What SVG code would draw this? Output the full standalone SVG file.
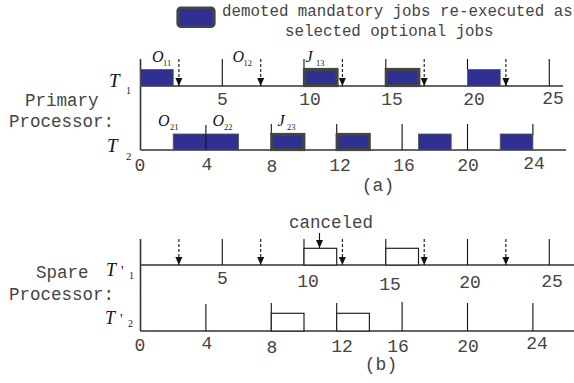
<svg xmlns="http://www.w3.org/2000/svg" width="574" height="383" viewBox="0 0 574 383">
<defs>
<marker id="ah" viewBox="0 0 8 8" refX="8" refY="4" markerWidth="8" markerHeight="8" markerUnits="userSpaceOnUse" orient="auto">
<path d="M0,0.5 L8,4 L0,7.5 Z" fill="#111"/>
</marker>
</defs>
<style>
.mono{font-family:"Liberation Mono","Courier New",monospace;fill:#444;}
.lbl{font-size:17.5px;}
.leg{font-size:15.8px;}
.tk{font-size:18px;text-anchor:middle;}
.ti{font-family:"Liberation Serif","Times New Roman",serif;font-style:italic;fill:#111;}
.sub{font-family:"Liberation Serif","Times New Roman",serif;fill:#222;}
.axis{stroke:#333;stroke-width:1.6;fill:none;}
.tick{stroke:#111;stroke-width:1.1;fill:none;}
.dash{stroke:#111;stroke-width:1.1;stroke-dasharray:3,2;fill:none;}
.blue{fill:#2e3192;stroke:#555;stroke-width:0.8;}
.bblue{fill:#2e3192;stroke:#444;stroke-width:3.2;}
.wbox{fill:#fff;stroke:#222;stroke-width:1.2;}
</style>
<rect width="574" height="383" fill="#fff"/>

<g id="legend">
<rect x="178" y="8" width="36" height="18.5" rx="3" class="bblue"/>
<text class="mono leg" x="222" y="15.5">demoted mandatory jobs re-executed as</text>
<text class="mono leg" x="285" y="35.5">selected optional jobs</text>
</g>

<g id="primary-label">
<text class="mono lbl" x="25" y="106">Primary</text>
<text class="mono lbl" x="9" y="127">Processor:</text>
</g>
<g id="spare-label">
<text class="mono lbl" x="36" y="278">Spare</text>
<text class="mono lbl" x="9" y="300">Processor:</text>
</g>

<g id="connectors">
<path class="axis" d="M140.5,59 V150"/>
<path class="axis" d="M140.5,86 H563"/>
<path class="axis" d="M140.5,150 H566"/>
<path class="tick" d="M222.3,59 V86 M304,59 V69 M385.8,59 V69 M467.5,59 V69 M549.3,59 V86"/>
<path class="dash" d="M178.9,59 V86" marker-end="url(#ah)"/>
<path class="dash" d="M260.7,59 V86" marker-end="url(#ah)"/>
<path class="dash" d="M342.4,59 V86" marker-end="url(#ah)"/>
<path class="dash" d="M424.2,59 V86" marker-end="url(#ah)"/>
<path class="dash" d="M505.9,59 V86" marker-end="url(#ah)"/>
<path class="tick" d="M205.9,125 V150 M271.3,124 V135 M336.7,124 V135 M402.1,124 V150 M467.5,124 V150 M532.9,124 V135"/>

<path class="axis" d="M140.5,239 V331"/>
<path class="axis" d="M140.5,265 H574"/>
<path class="axis" d="M140.5,331 H574"/>
<path class="tick" d="M222.3,239 V265 M304,239 V265 M385.8,239 V265 M467.5,239 V265 M549.3,239 V265"/>
<path class="dash" d="M178.9,239 V265" marker-end="url(#ah)"/>
<path class="dash" d="M260.7,239 V265" marker-end="url(#ah)"/>
<path class="dash" d="M342.4,239 V265" marker-end="url(#ah)"/>
<path class="dash" d="M424.2,239 V265" marker-end="url(#ah)"/>
<path class="dash" d="M505.9,239 V265" marker-end="url(#ah)"/>
<path class="tick" d="M319.5,233 V248" marker-end="url(#ah)"/>
<path class="tick" d="M205.9,304 V331 M271.3,303 V331 M336.7,303 V331 M402.1,302 V331 M467.5,303 V331 M532.9,303 V331"/>
</g>

<g id="T1">
<text class="ti" x="109" y="87" font-size="19">T</text>
<text class="sub" x="126" y="94" font-size="10">1</text>
</g>
<g id="T2">
<text class="ti" x="107" y="152" font-size="19">T</text>
<text class="sub" x="126" y="160" font-size="11">2</text>
</g>
<g id="Tp1">
<text class="ti" x="106" y="276" font-size="18">T</text>
<text class="sub" x="121" y="276" font-size="15">'</text>
<text class="sub" x="129" y="279" font-size="10">1</text>
</g>
<g id="Tp2">
<text class="ti" x="105" y="324" font-size="18">T</text>
<text class="sub" x="120" y="324" font-size="15">'</text>
<text class="sub" x="128" y="327" font-size="10">2</text>
</g>

<g id="T1-jobs">
<rect class="blue" x="140.5" y="69.5" width="32.7" height="16.5"/>
<rect class="bblue" x="304.5" y="69.5" width="32.5" height="16"/>
<rect class="bblue" x="386.3" y="69.5" width="32.5" height="16"/>
<rect class="blue" x="467.5" y="69.5" width="32.7" height="16.5"/>
<text class="ti" x="152" y="61.5" font-size="16">O</text><text class="sub" x="163" y="65.5" font-size="8.5">11</text>
<text class="ti" x="232.5" y="61.5" font-size="16">O</text><text class="sub" x="243.5" y="65.5" font-size="8.5">12</text>
<text class="ti" x="305.5" y="61.5" font-size="16">J</text><text class="sub" x="316" y="65.5" font-size="8.5">13</text>
</g>

<g id="T2-jobs">
<rect class="blue" x="173.2" y="134" width="65.4" height="16"/>
<path class="tick" d="M205.9,134 V150"/>
<rect class="bblue" x="271.8" y="134.5" width="32" height="15"/>
<rect class="bblue" x="337.2" y="134.5" width="32" height="15"/>
<rect class="blue" x="418.5" y="134" width="32.7" height="16"/>
<rect class="blue" x="500.2" y="134" width="32.7" height="16"/>
<text class="ti" x="158" y="125.5" font-size="16">O</text><text class="sub" x="170" y="130" font-size="8.5">21</text>
<text class="ti" x="212.5" y="125.5" font-size="16">O</text><text class="sub" x="224" y="130" font-size="8.5">22</text>
<text class="ti" x="277.5" y="125.5" font-size="16">J</text><text class="sub" x="287" y="130" font-size="8.5">23</text>
</g>

<g id="Tp1-jobs">
<rect class="wbox" x="304" y="248.3" width="32.7" height="16.7"/>
<rect class="wbox" x="385.8" y="248.3" width="32.7" height="16.7"/>
<text class="mono tk" x="331" y="228" style="font-size:17.5px">canceled</text>
</g>
<g id="Tp2-jobs">
<rect class="wbox" x="271.3" y="313.3" width="32.7" height="17.7"/>
<rect class="wbox" x="336.7" y="313.3" width="32.7" height="17.7"/>
</g>

<g id="ticklabels-a">
<text class="mono tk" x="222.5" y="105">5</text>
<text class="mono tk" x="310" y="105">10</text>
<text class="mono tk" x="392" y="105">15</text>
<text class="mono tk" x="474" y="105">20</text>
<text class="mono tk" x="553" y="104">25</text>
<text class="mono tk" x="140" y="171">0</text>
<text class="mono tk" x="207" y="170">4</text>
<text class="mono tk" x="272" y="172">8</text>
<text class="mono tk" x="340" y="171">12</text>
<text class="mono tk" x="404" y="171">16</text>
<text class="mono tk" x="468" y="171">20</text>
<text class="mono tk" x="534" y="169">24</text>
<text class="mono tk" x="378" y="191">(a)</text>
</g>
<g id="ticklabels-b">
<text class="mono tk" x="222.5" y="284">5</text>
<text class="mono tk" x="308" y="287">10</text>
<text class="mono tk" x="390" y="290">15</text>
<text class="mono tk" x="470" y="288">20</text>
<text class="mono tk" x="552" y="287">25</text>
<text class="mono tk" x="140" y="351">0</text>
<text class="mono tk" x="207" y="349">4</text>
<text class="mono tk" x="272" y="353">8</text>
<text class="mono tk" x="342" y="352">12</text>
<text class="mono tk" x="398" y="352">16</text>
<text class="mono tk" x="468" y="352">20</text>
<text class="mono tk" x="537" y="349">24</text>
<text class="mono tk" x="381" y="370">(b)</text>
</g>
</svg>
